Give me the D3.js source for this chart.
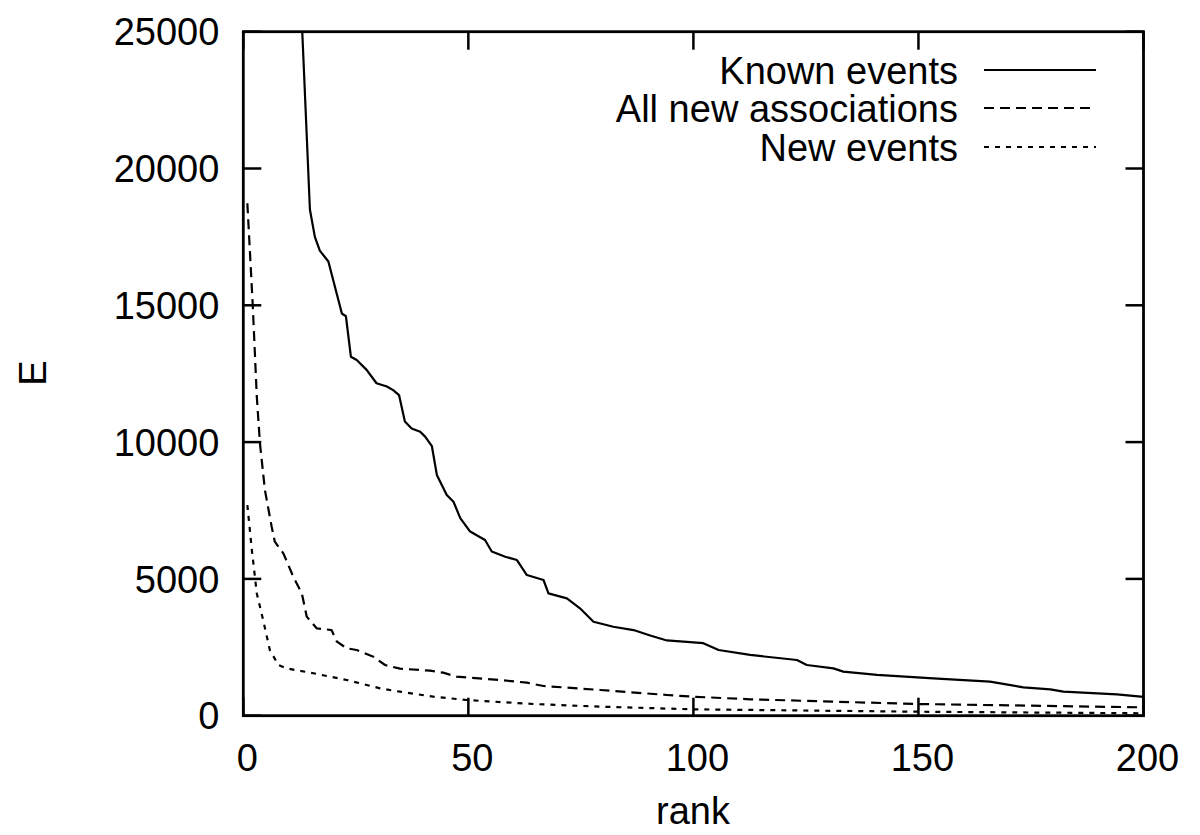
<!DOCTYPE html>
<html>
<head>
<meta charset="utf-8">
<script src="https://cdn.jsdelivr.net/npm/d3@7"></script>
<style>
  html, body { margin: 0; padding: 0; background: #fff; }
  svg { display: block; }
  text { font-family: "Liberation Sans", Arial, Helvetica, sans-serif; fill: #000; }
</style>
</head>
<body>
<svg id="chart" width="1200" height="835"></svg>
<script>
// ---- data ----
const xTicks = [0, 50, 100, 150, 200];
const yTicks = [0, 5000, 10000, 15000, 20000, 25000];

const knownRank = [12, 14.8, 15.9, 17, 18.9, 21.9, 22.8, 23.9, 25.2, 27.4, 29.6, 31.9, 33.3, 34.6, 35.9, 37.4, 39.3, 40.4, 41.9, 43, 45.2, 46.7, 48.2, 50.4, 53.7, 55.2, 58.2, 60.8, 63, 66.7, 67.8, 71.9, 74.8, 77.8, 82.2, 86.7, 90.4, 94.1, 102.2, 105.6, 112.6, 123, 125.2, 131.1, 133.3, 140.8, 153.3, 165.9, 173.3, 179.3, 182.2, 194.1, 200];
const knownE = [29200, 18500, 17500, 17000, 16600, 14700, 14600, 13120, 13000, 12640, 12150, 12030, 11900, 11720, 10750, 10500, 10380, 10200, 9850, 8800, 8070, 7820, 7220, 6730, 6420, 6000, 5810, 5690, 5140, 4960, 4470, 4290, 3925, 3435, 3250, 3130, 2930, 2750, 2650, 2400, 2220, 2035, 1853, 1730, 1610, 1490, 1365, 1243, 1036, 965, 877, 780, 690];

const allNewRank = [0.9, 2.1, 3, 3.7, 4.8, 6.3, 7, 8.9, 11.1, 13, 14.1, 16.3, 19.6, 20.8, 23, 25.2, 28.9, 31.5, 34.8, 41.5, 44.4, 47.4, 57, 63, 66.7, 79.3, 94.1, 100.5, 112.6, 149.6, 200];
const allNewE = [18730, 15000, 11660, 9955, 8250, 6910, 6360, 5935, 5080, 4470, 3620, 3195, 3130, 2705, 2463, 2400, 2157, 1853, 1720, 1645, 1573, 1427, 1305, 1207, 1085, 940, 757, 690, 600, 428, 305];

const newRank = [0.9, 1.9, 3, 4.4, 5.9, 7.8, 9.6, 15.6, 23, 30.4, 34.8, 42.2, 49.6, 64.4, 79.3, 100, 149.6, 200];
const newE = [7700, 6055, 4470, 3500, 2400, 1853, 1730, 1550, 1305, 1000, 877, 695, 573, 428, 330, 233, 146, 88];

const seriesNames = ["Known events", "All new associations", "New events"];
const seriesDash = [null, "10,6", "5,6"];

// ---- layout ----
const svg = d3.select("#chart");
const L = 243.3, R = 1143.5, T = 31.7, B = 715.7;
const x = d3.scaleLinear().domain([0, 200]).range([L, R]);
const y = d3.scaleLinear().domain([0, 25000]).range([B, T]);
const FS = 38;
const tickLen = 18;

svg.append("defs").append("clipPath").attr("id", "clip")
  .append("rect").attr("x", L).attr("y", T).attr("width", R - L).attr("height", B - T);

// ticks (inward, mirrored)
const tk = svg.append("g").attr("stroke", "#000").attr("stroke-width", 2.5);
xTicks.forEach(v => {
  tk.append("line").attr("x1", x(v)).attr("x2", x(v)).attr("y1", B).attr("y2", B - tickLen);
  tk.append("line").attr("x1", x(v)).attr("x2", x(v)).attr("y1", T).attr("y2", T + tickLen);
});
yTicks.forEach(v => {
  tk.append("line").attr("x1", L).attr("x2", L + tickLen).attr("y1", y(v)).attr("y2", y(v));
  tk.append("line").attr("x1", R).attr("x2", R - tickLen).attr("y1", y(v)).attr("y2", y(v));
});

// tick labels
svg.append("g").selectAll("text").data(yTicks).join("text")
  .attr("x", L - 24).attr("y", d => y(d)).attr("dy", "0.36em")
  .attr("text-anchor", "end").attr("font-size", FS).text(d => d);
svg.append("g").selectAll("text").data(xTicks).join("text")
  .attr("x", d => x(d) + 4).attr("y", 757).attr("dy", "0.36em")
  .attr("text-anchor", "middle").attr("font-size", FS).text(d => d);

// axis titles
svg.append("text").attr("x", 693).attr("y", 810).attr("dy", "0.36em")
  .attr("text-anchor", "middle").attr("font-size", FS).text("rank");
svg.append("text").attr("transform", "translate(32,373) rotate(-90)").attr("dy", "0.36em")
  .attr("text-anchor", "middle").attr("font-size", FS).text("E");

// lines
const line = d3.line().x(d => x(d[0])).y(d => y(d[1]));
const series = [
  d3.zip(knownRank, knownE),
  d3.zip(allNewRank, allNewE),
  d3.zip(newRank, newE)
];
const lg = svg.append("g").attr("clip-path", "url(#clip)");
series.forEach((s, i) => {
  lg.append("path").datum(s).attr("d", line)
    .attr("fill", "none").attr("stroke", "#000").attr("stroke-width", 2.2)
    .attr("stroke-linejoin", "round")
    .attr("stroke-dasharray", seriesDash[i]);
});

// legend
const legY = [70, 108, 147];
seriesNames.forEach((n, i) => {
  svg.append("text").attr("x", 958).attr("y", legY[i]).attr("dy", "0.36em")
    .attr("text-anchor", "end").attr("font-size", FS).text(n);
  svg.append("line").attr("x1", 984).attr("x2", 1096).attr("y1", legY[i]).attr("y2", legY[i])
    .attr("stroke", "#000").attr("stroke-width", 2.2)
    .attr("stroke-dasharray", seriesDash[i]);
});

// frame
svg.append("rect").attr("x", L).attr("y", T).attr("width", R - L).attr("height", B - T)
  .attr("fill", "none").attr("stroke", "#000").attr("stroke-width", 2.8);
</script>
</body>
</html>
